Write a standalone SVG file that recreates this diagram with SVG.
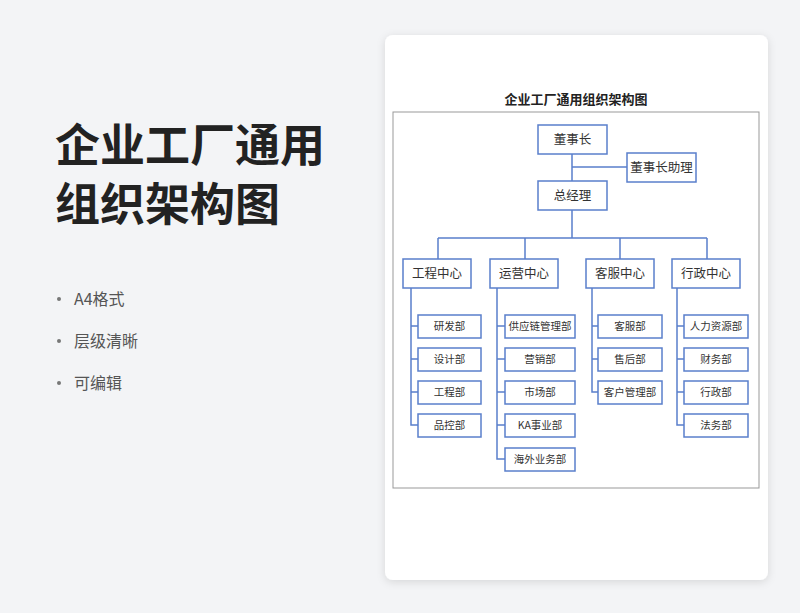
<svg xmlns="http://www.w3.org/2000/svg" width="800" height="613" viewBox="0 0 800 613">
<defs>
<filter id="sh" x="-10%" y="-10%" width="120%" height="120%"><feDropShadow dx="0" dy="2" stdDeviation="4" flood-color="#000" flood-opacity="0.12"/></filter>
</defs>
<style>
text{font-family:"Noto Sans CJK SC","Noto Sans",sans-serif}
.b rect{fill:#fff;stroke:#5a7fcb;stroke-width:1.5}
.b text{font-size:12.5px;fill:#333;text-anchor:middle}
.s text{font-size:10.5px}
.c{stroke:#5a7fcb;stroke-width:1.5;fill:none}
.bl{font-size:16px;fill:#555}
</style>
<rect width="800" height="613" fill="#f3f4f6"/>
<text x="55" y="162" font-size="45" font-weight="bold" fill="#222">企业工厂通用</text>
<text x="55" y="221" font-size="45" font-weight="bold" fill="#222">组织架构图</text>
<g fill="#777"><circle cx="59" cy="299" r="2"/><circle cx="59" cy="341" r="2"/><circle cx="59" cy="383" r="2"/></g>
<text class="bl" x="74" y="305">A4格式</text>
<text class="bl" x="74" y="347">层级清晰</text>
<text class="bl" x="74" y="389">可编辑</text>
<rect x="385" y="35" width="383" height="545" rx="8" fill="#fff" filter="url(#sh)"/>
<text x="576" y="104" font-size="13" font-weight="bold" fill="#222" text-anchor="middle">企业工厂通用组织架构图</text>
<rect x="393" y="112" width="366" height="376" fill="none" stroke="#999" stroke-width="1"/>
<g id="connectors" class="c">
<path d="M572 154V181M572 167H627M572 210V238M438 238H707M438 238V259M525 238V259M620 238V259M707 238V259"/>
<path d="M411 288V425H418M411 326H418M411 359H418M411 392H418"/>
<path d="M497 288V459H505M497 326H505M497 359H505M497 392H505M497 425H505"/>
<path d="M592 288V392H598M592 326H598M592 359H598"/>
<path d="M677 288V425H684M677 326H684M677 359H684M677 392H684"/>
</g>
<g class="b">
<g id="n-chair"><rect x="538" y="125" width="69" height="29"/><text x="572.5" y="144">董事长</text></g>
<g id="n-asst"><rect x="627" y="153" width="69" height="29"/><text x="661.5" y="172">董事长助理</text></g>
<g id="n-gm"><rect x="538" y="181" width="69" height="29"/><text x="572.5" y="200">总经理</text></g>
<g id="n-eng"><rect x="403" y="259" width="68" height="29"/><text x="437" y="278">工程中心</text></g>
<g id="n-ops"><rect x="490" y="259" width="68" height="29"/><text x="524" y="278">运营中心</text></g>
<g id="n-cs"><rect x="586" y="259" width="68" height="29"/><text x="620" y="278">客服中心</text></g>
<g id="n-adm"><rect x="672" y="259" width="68" height="29"/><text x="706" y="278">行政中心</text></g>
</g>
<g class="b s">
<g id="e1"><rect x="418" y="315" width="63" height="23"/><text x="449.5" y="330">研发部</text></g>
<g id="e2"><rect x="418" y="348" width="63" height="23"/><text x="449.5" y="363">设计部</text></g>
<g id="e3"><rect x="418" y="381" width="63" height="23"/><text x="449.5" y="396">工程部</text></g>
<g id="e4"><rect x="418" y="414" width="63" height="23"/><text x="449.5" y="429">品控部</text></g>
<g id="o1"><rect x="505" y="315" width="70" height="23"/><text x="540" y="330">供应链管理部</text></g>
<g id="o2"><rect x="505" y="348" width="70" height="23"/><text x="540" y="363">营销部</text></g>
<g id="o3"><rect x="505" y="381" width="70" height="23"/><text x="540" y="396">市场部</text></g>
<g id="o4"><rect x="505" y="414" width="70" height="23"/><text x="540" y="429">KA事业部</text></g>
<g id="o5"><rect x="505" y="448" width="70" height="23"/><text x="540" y="463">海外业务部</text></g>
<g id="c1"><rect x="598" y="315" width="64" height="23"/><text x="630" y="330">客服部</text></g>
<g id="c2"><rect x="598" y="348" width="64" height="23"/><text x="630" y="363">售后部</text></g>
<g id="c3"><rect x="598" y="381" width="64" height="23"/><text x="630" y="396">客户管理部</text></g>
<g id="a1"><rect x="684" y="315" width="64" height="23"/><text x="716" y="330">人力资源部</text></g>
<g id="a2"><rect x="684" y="348" width="64" height="23"/><text x="716" y="363">财务部</text></g>
<g id="a3"><rect x="684" y="381" width="64" height="23"/><text x="716" y="396">行政部</text></g>
<g id="a4"><rect x="684" y="414" width="64" height="23"/><text x="716" y="429">法务部</text></g>
</g>
</svg>
